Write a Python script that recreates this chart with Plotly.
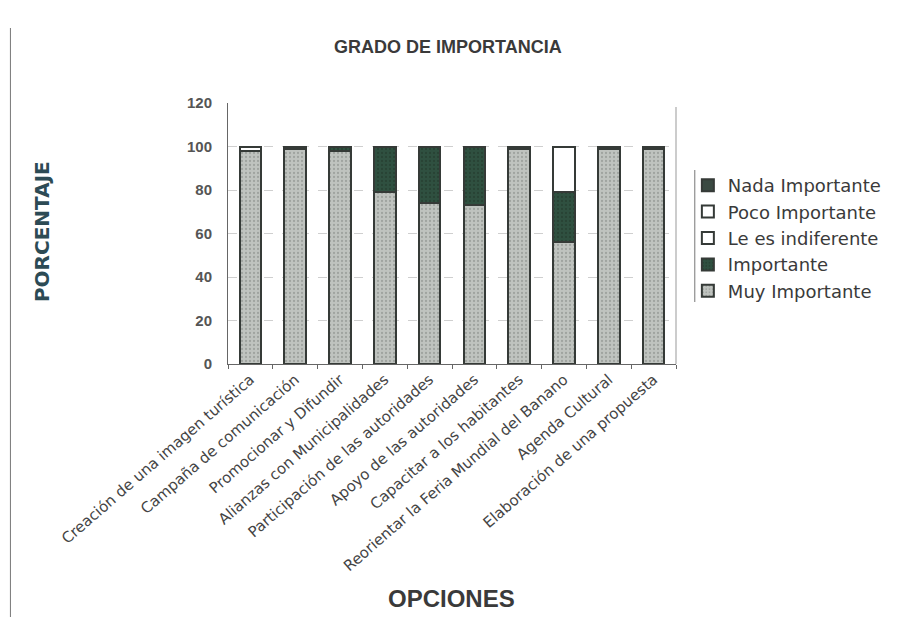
import plotly.graph_objects as go

categories = [
    "Creación de una imagen turística",
    "Campaña de comunicación",
    "Promocionar y Difundir",
    "Alianzas con Municipalidades",
    "Participación de las autoridades",
    "Apoyo de las autoridades",
    "Capacitar a los habitantes",
    "Reorientar la Feria Mundial del Banano",
    "Agenda Cultural",
    "Elaboración de una propuesta",
]
muy_importante = [98, 99, 98, 79, 74, 73, 99, 56, 99, 99]
importante = [0, 0, 2, 21, 26, 27, 0, 23, 0, 0]
le_es_indiferente = [0, 0, 0, 0, 0, 0, 0, 0, 0, 0]
poco_importante = [2, 1, 0, 0, 0, 0, 1, 21, 1, 1]
nada_importante = [0, 0, 0, 0, 0, 0, 0, 0, 0, 0]
y_ticks = [0, 20, 40, 60, 80, 100, 120]

W, H = 898, 617
L, R, T, B = 228, 681, 103, 364

fig = go.Figure()
line = dict(color="#353a37", width=2)
fig.add_bar(x=categories, y=muy_importante, name="Muy Importante",
            marker=dict(color="#b9bdb9", line=line,
                        pattern=dict(shape=".", fgcolor="#7d837f", bgcolor="#bfc3bf",
                                     size=4, solidity=0.25)))
fig.add_bar(x=categories, y=importante, name="Importante",
            marker=dict(color="#2c4a3c", line=line,
                        pattern=dict(shape=".", fgcolor="#1f3328", bgcolor="#2f5040",
                                     size=4, solidity=0.25)))
fig.add_bar(x=categories, y=le_es_indiferente, name="Le es indiferente",
            marker=dict(color="#ffffff", line=line))
fig.add_bar(x=categories, y=poco_importante, name="Poco Importante",
            marker=dict(color="#ffffff", line=line))
fig.add_bar(x=categories, y=nada_importante, name="Nada Importante",
            marker=dict(color="#3a4a42", line=line))

ph = B - T
pw = R - L
def px_x(x):
    return (x - L) / pw
def px_y(y):
    return (B - y) / ph

fig.update_layout(
    width=W, height=H,
    margin=dict(l=L, r=W - R, t=T, b=H - B, pad=0),
    barmode="stack", bargap=0.52,
    plot_bgcolor="white", paper_bgcolor="white",
    font=dict(family="Liberation Sans, Arial, sans-serif", color="#3a3a3a"),
    showlegend=True,
    legend=dict(traceorder="reversed", x=px_x(693), xanchor="left",
                y=px_y(238), yanchor="middle",
                font=dict(size=18, color="#3a3a3a", family="DejaVu Sans"),
                tracegroupgap=0, itemwidth=30, bgcolor="rgba(0,0,0,0)"),
)
fig.update_yaxes(range=[0, 120], tickvals=y_ticks, showline=True, linecolor="#666",
                 linewidth=1, ticks="", showgrid=True, gridcolor="#cfcfcf",
                 griddash="dash", gridwidth=1, zeroline=False, ticklabelstandoff=12,
                 tickfont=dict(size=15, color="#555", weight="bold"))
fig.update_xaxes(showline=True, linecolor="#666", linewidth=1, ticks="outside",
                 ticklen=4, tickcolor="#666", tickson="boundaries", tickangle=-41,
                 tickfont=dict(size=15, color="#444", family="DejaVu Sans"))

fig.add_annotation(text="<b>GRADO DE IMPORTANCIA</b>", xref="paper", yref="paper",
                   x=px_x(450), y=px_y(47), showarrow=False,
                   xanchor="center", yanchor="middle",
                   font=dict(size=18, color="#3a3a3a"))
fig.add_annotation(text="<b>PORCENTAJE</b>", xref="paper", yref="paper",
                   x=px_x(40), y=px_y(232), showarrow=False, textangle=-90,
                   xanchor="center", yanchor="middle",
                   font=dict(size=20, color="#2d4b55", family="DejaVu Sans"))
fig.add_annotation(text="<b>OPCIONES</b>", xref="paper", yref="paper",
                   x=px_x(454), y=px_y(598), showarrow=False,
                   xanchor="center", yanchor="middle",
                   font=dict(size=24, color="#3a3a3a"))

# frame lines
fig.add_shape(type="line", xref="paper", yref="paper", x0=px_x(8), x1=px_x(8),
              y0=px_y(28), y1=px_y(617), line=dict(color="#777", width=1))
fig.add_shape(type="line", xref="paper", yref="paper", x0=1, x1=1,
              y0=px_y(107), y1=0, line=dict(color="#999", width=1))
fig.add_shape(type="line", xref="paper", yref="paper", x0=px_x(700), x1=px_x(700),
              y0=px_y(170), y1=px_y(302), line=dict(color="#777", width=1))

fig.write_html("out.html")
